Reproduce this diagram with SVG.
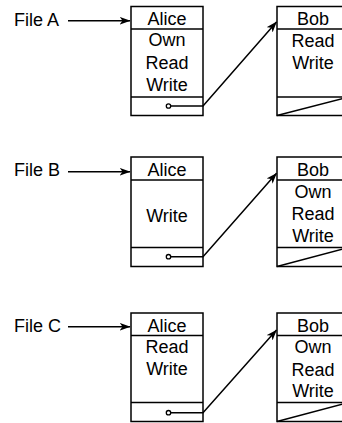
<svg xmlns="http://www.w3.org/2000/svg" width="342" height="423" viewBox="0 0 342 423">
  <style>
    .box { fill: #fff; stroke: #000; stroke-width: 1.5; }
    .sep { stroke: #000; stroke-width: 1.5; fill: none; }
    .t { font-family: "Liberation Sans", Arial, sans-serif; font-size: 18px; fill: #000; }
    .c { text-anchor: middle; }
    .link { stroke: #000; stroke-width: 1.5; fill: none; }
    .dot { fill: #fff; stroke: #000; stroke-width: 1.3; }
  </style>
  <defs>
    <marker id="arr" markerWidth="11" markerHeight="9" refX="10.5" refY="4.5" orient="auto" markerUnits="userSpaceOnUse">
      <path d="M0,0.5 L11,4.5 L0,8.5 L3,4.5 Z" fill="#000"/>
    </marker>
  </defs>

  <rect width="342" height="423" fill="#fff"/>

  <!-- File A -->
  <g id="fileA-label">
    <text class="t" x="14" y="26">File A</text>
  </g>
  <g id="fileA-alice">
    <rect class="box" x="131" y="6.5" width="72" height="109"/>
    <line class="sep" x1="131" y1="29" x2="203" y2="29"/>
    <line class="sep" x1="131" y1="97" x2="203" y2="97"/>
    <text class="t c" x="167" y="25">Alice</text>
    <text class="t c" x="167" y="46">Own</text>
    <text class="t c" x="167" y="68.5">Read</text>
    <text class="t c" x="167" y="90.5">Write</text>
  </g>
  <g id="fileA-bob">
    <rect class="box" x="277" y="6.5" width="72" height="109"/>
    <line class="sep" x1="277" y1="29" x2="349" y2="29"/>
    <line class="sep" x1="277" y1="97" x2="349" y2="97"/>
    <line class="sep" x1="277" y1="115.5" x2="349" y2="97"/>
    <text class="t c" x="313" y="25">Bob</text>
    <text class="t c" x="313" y="46.5">Read</text>
    <text class="t c" x="313" y="69">Write</text>
  </g>

  <!-- File B -->
  <g id="fileB-label">
    <text class="t" x="14" y="176">File B</text>
  </g>
  <g id="fileB-alice">
    <rect class="box" x="131" y="157" width="72" height="109.5"/>
    <line class="sep" x1="131" y1="180" x2="203" y2="180"/>
    <line class="sep" x1="131" y1="247.5" x2="203" y2="247.5"/>
    <text class="t c" x="167" y="176">Alice</text>
    <text class="t c" x="167" y="221.5">Write</text>
  </g>
  <g id="fileB-bob">
    <rect class="box" x="277" y="157" width="72" height="109.5"/>
    <line class="sep" x1="277" y1="180" x2="349" y2="180"/>
    <line class="sep" x1="277" y1="247.5" x2="349" y2="247.5"/>
    <line class="sep" x1="277" y1="266.5" x2="349" y2="247.5"/>
    <text class="t c" x="313" y="176">Bob</text>
    <text class="t c" x="313" y="198.3">Own</text>
    <text class="t c" x="313" y="220">Read</text>
    <text class="t c" x="313" y="241.7">Write</text>
  </g>

  <!-- File C -->
  <g id="fileC-label">
    <text class="t" x="14" y="332">File C</text>
  </g>
  <g id="fileC-alice">
    <rect class="box" x="131" y="313" width="72" height="108.5"/>
    <line class="sep" x1="131" y1="335.5" x2="203" y2="335.5"/>
    <line class="sep" x1="131" y1="402.5" x2="203" y2="402.5"/>
    <text class="t c" x="167" y="332">Alice</text>
    <text class="t c" x="167" y="352.7">Read</text>
    <text class="t c" x="167" y="375">Write</text>
  </g>
  <g id="fileC-bob">
    <rect class="box" x="277" y="313" width="72" height="108.5"/>
    <line class="sep" x1="277" y1="335.5" x2="349" y2="335.5"/>
    <line class="sep" x1="277" y1="402.5" x2="349" y2="402.5"/>
    <line class="sep" x1="277" y1="421.5" x2="349" y2="402.5"/>
    <text class="t c" x="313" y="332">Bob</text>
    <text class="t c" x="313" y="353.3">Own</text>
    <text class="t c" x="313" y="376">Read</text>
    <text class="t c" x="313" y="397.3">Write</text>
  </g>

  <!-- connectors -->
  <g id="connectors">
    <line class="link" x1="68" y1="20.7" x2="130" y2="20.7" marker-end="url(#arr)"/>
    <polyline class="link" points="168.5,106 203,106 276.5,22" marker-end="url(#arr)"/>
    <circle class="dot" cx="168.5" cy="106" r="2.2"/>

    <line class="link" x1="68" y1="171.7" x2="130" y2="171.7" marker-end="url(#arr)"/>
    <polyline class="link" points="168.5,256.7 203,256.7 276.5,173.3" marker-end="url(#arr)"/>
    <circle class="dot" cx="168.5" cy="256.7" r="2.2"/>

    <line class="link" x1="68" y1="326.7" x2="130" y2="326.7" marker-end="url(#arr)"/>
    <polyline class="link" points="168.5,412.7 203,412.7 276.5,330" marker-end="url(#arr)"/>
    <circle class="dot" cx="168.5" cy="412.7" r="2.2"/>
  </g>
</svg>
